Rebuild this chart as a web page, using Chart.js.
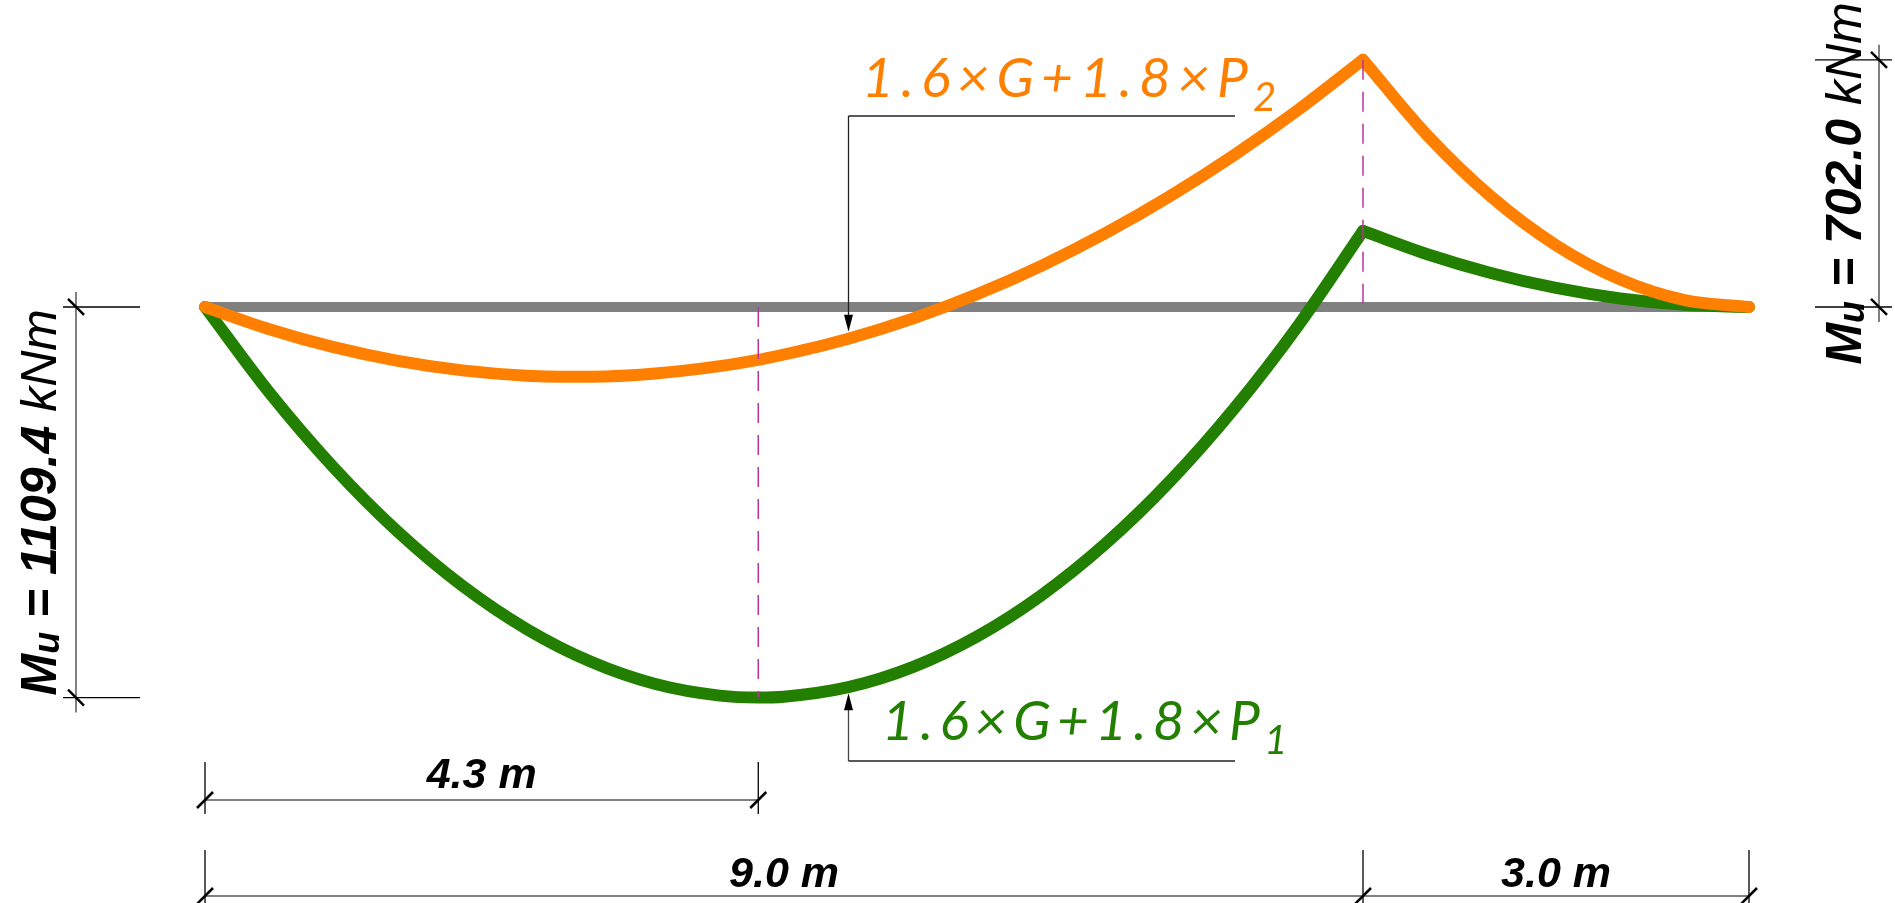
<!DOCTYPE html>
<html>
<head>
<meta charset="utf-8">
<script src="https://cdn.jsdelivr.net/npm/chart.js@4.4.0/dist/chart.umd.min.js"></script>
<style>
html, body { margin: 0; padding: 0; background: #fff; }
#wrap { width: 1895px; height: 903px; }
</style>
</head>
<body>
<div id="wrap"><canvas id="momentChart" width="1895" height="903"></canvas></div>
<script>
// positions along the beam (m): 9 m span + 3 m cantilever
const spanX = [0, 0.5, 1, 1.5, 2, 2.5, 3, 3.5, 4, 4.3, 4.5, 5, 5.5, 6, 6.5, 7, 7.5, 8, 8.5, 9];
const greenSpan = [0, -243, -456, -639, -792, -915, -1008, -1071, -1104, -1109.4, -1107, -1080, -1023, -936, -819, -672, -495, -288, -51, 216];
const orangeSpan = [0, -63, -114, -153, -180, -195, -198, -189, -168, -150, -135, -90, -33, 36, 117, 210, 315, 432, 561, 702];
const cantX = [9, 9.5, 10, 10.5, 11, 11.5, 12];
const greenCant = [216, 150, 96, 54, 24, 6, 0];
const orangeCant = [702, 487.5, 312, 175.5, 78, 19.5, 0];
const beamX = [0, 12];
const beamY = [0, 0];

// annotations
const maxSag = -1109.4, maxSagAt = 4.3;
const maxHog = 702.0, supportAt = 9;
const beamEnd = 12;
const leaderAt = 5.0;
const sagLabel = '1109.4', hogLabel = '702.0';
const comboMain = '1.6×G+1.8×P';
const comboSubs = ['2', '1'];
const dimLabels = ['4.3 m', '9.0 m', '3.0 m'];

const ORANGE = '#ff8000', GREEN = '#227f00', GRAY = '#808080', DASH = '#b8359f';

const pts = (xs, ys) => xs.map((v, i) => ({ x: v, y: ys[i] }));

function curve(data, color) {
    return {
        data: data,
        borderColor: color,
        borderWidth: 12,
        borderCapStyle: 'round',
        borderJoinStyle: 'round',
        pointRadius: 0,
        cubicInterpolationMode: 'monotone',
        fill: false
    };
}

function runs(ctx, parts, x, y) {
    // draw text pieces centred on x, baseline y
    let total = 0;
    parts.forEach(p => { ctx.font = p.f; total += ctx.measureText(p.t).width; });
    let cx = x - total / 2;
    ctx.textAlign = 'left';
    parts.forEach(p => {
        ctx.font = p.f;
        ctx.fillText(p.t, cx, y + (p.dy || 0));
        cx += ctx.measureText(p.t).width;
    });
}

function spaced(ctx, text, sub, x, y, width, color) {
    ctx.fillStyle = color;
    ctx.textAlign = 'left';
    ctx.font = 'italic 400 55px Lato, "Open Sans", sans-serif';
    const chars = [...text];
    let natural = 0;
    chars.forEach(c => natural += ctx.measureText(c).width);
    const gap = (width - natural) / (chars.length - 1);
    let cx = x;
    chars.forEach(c => {
        ctx.fillText(c, cx, y);
        cx += ctx.measureText(c).width + gap;
    });
    ctx.font = 'italic 400 40px Lato, "Open Sans", sans-serif';
    ctx.fillText(sub, cx - 2, y + 14);
}

function tick(ctx, x, y, vertical) {
    ctx.save();
    ctx.strokeStyle = '#000';
    ctx.lineWidth = 2.5;
    ctx.beginPath();
    if (vertical) { ctx.moveTo(x - 8, y - 8); ctx.lineTo(x + 8, y + 8); }
    else { ctx.moveTo(x - 8, y + 8); ctx.lineTo(x + 8, y - 8); }
    ctx.stroke();
    ctx.restore();
}

function line(ctx, x1, y1, x2, y2, color, w) {
    ctx.strokeStyle = color;
    ctx.lineWidth = w;
    ctx.beginPath();
    ctx.moveTo(x1, y1);
    ctx.lineTo(x2, y2);
    ctx.stroke();
}

function arrow(ctx, x, tipY, dir) {
    ctx.fillStyle = '#000';
    ctx.beginPath();
    ctx.moveTo(x, tipY);
    ctx.lineTo(x - 4.5, tipY - dir * 17);
    ctx.lineTo(x + 4.5, tipY - dir * 17);
    ctx.closePath();
    ctx.fill();
}

const sketch = {
    id: 'sketch',
    afterDatasetsDraw(chart) {
        const { ctx, scales: { x, y } } = chart;
        const X = v => x.getPixelForValue(v);
        const Y = v => y.getPixelForValue(v);
        ctx.save();
        ctx.lineCap = 'butt';

        // dashed verticals
        ctx.setLineDash([20, 12]);
        line(ctx, X(maxSagAt), Y(0), X(maxSagAt), Y(maxSag), DASH, 1.5);
        line(ctx, X(supportAt), Y(maxHog), X(supportAt), Y(0), DASH, 1.5);
        ctx.setLineDash([]);

        // leaders with arrows
        const lx = Math.round(X(leaderAt)) + 0.5;
        const oTip = Y(-90) - 7;
        line(ctx, lx, 116, lx, oTip - 10, '#222', 1.3);
        line(ctx, lx, 116, 1235, 116, '#222', 1.3);
        arrow(ctx, lx, oTip, 1);
        const gTip = Y(-1080) + 6;
        line(ctx, lx, 761, lx, gTip + 10, '#444', 1.3);
        line(ctx, lx, 761, 1235, 761, '#222', 1.3);
        arrow(ctx, lx, gTip, -1);

        spaced(ctx, comboMain, comboSubs[0], 862, 97, 386, ORANGE);
        spaced(ctx, comboMain, comboSubs[1], 882, 740, 378, GREEN);

        // left vertical dimension
        const ly0 = Y(0), ly1 = Y(maxSag);
        line(ctx, 63, ly0, 140, ly0, '#000', 1.3);
        line(ctx, 63, ly1, 140, ly1, '#000', 1.3);
        line(ctx, 76, ly0 - 15, 76, ly1 + 15, GRAY, 2);
        tick(ctx, 76, ly0, true);
        tick(ctx, 76, ly1, true);

        // right vertical dimension
        const ry0 = Y(maxHog), ry1 = Y(0);
        line(ctx, 1815, ry0, 1892, ry0, '#000', 1.3);
        line(ctx, 1815, ry1, 1892, ry1, '#000', 1.3);
        line(ctx, 1879, ry0 - 15, 1879, ry1 + 15, GRAY, 2);
        tick(ctx, 1879, ry0, true);
        tick(ctx, 1879, ry1, true);

        // bottom dimensions
        const x0 = X(0), xa = X(maxSagAt), xs = X(supportAt), xe = X(beamEnd);
        [x0, xa].forEach(v => line(ctx, v, 762, v, 814, '#000', 1.3));
        line(ctx, x0, 800, xa, 800, GRAY, 2);
        tick(ctx, x0, 800, false);
        tick(ctx, xa, 800, false);
        [x0, xs, xe].forEach(v => line(ctx, v, 850, v, 903, '#000', 1.3));
        line(ctx, x0, 896, xe, 896, GRAY, 2);
        [x0, xs, xe].forEach(v => tick(ctx, v, 896, false));

        ctx.fillStyle = '#000';
        const dimFont = 'bold italic 43px "Liberation Sans", Arial, sans-serif';
        runs(ctx, [{ t: dimLabels[0], f: dimFont }], (x0 + xa) / 2, 788);
        runs(ctx, [{ t: dimLabels[1], f: dimFont }], (x0 + xs) / 2, 887);
        runs(ctx, [{ t: dimLabels[2], f: dimFont }], (xs + xe) / 2, 887);

        // rotated moment labels
        const big = 'bold italic 50px "Liberation Sans", Arial, sans-serif';
        const sub = 'bold italic 36px "Liberation Sans", Arial, sans-serif';
        const unit = 'italic 50px "Liberation Sans", Arial, sans-serif';
        [[56, (ly0 + ly1) / 2, sagLabel], [1861, (ry0 + ry1) / 2, hogLabel]].forEach(([bx, cy, val]) => {
            ctx.save();
            ctx.translate(bx, cy);
            ctx.rotate(-Math.PI / 2);
            runs(ctx, [
                { t: 'M', f: big },
                { t: 'u', f: sub, dy: 3 },
                { t: ' = ' + val + ' ', f: big },
                { t: 'kNm', f: unit }
            ], 0, 0);
            ctx.restore();
        });
        ctx.restore();
    }
};

new Chart(document.getElementById('momentChart'), {
    type: 'line',
    data: {
        datasets: [
            curve(pts(cantX, orangeCant), ORANGE),
            curve(pts(spanX, orangeSpan), ORANGE),
            curve(pts(cantX, greenCant), GREEN),
            curve(pts(spanX, greenSpan), GREEN),
            {
                data: pts(beamX, beamY),
                borderColor: GRAY,
                borderWidth: 10,
                borderCapStyle: 'butt',
                pointRadius: 0,
                fill: false
            }
        ]
    },
    options: {
        responsive: false,
        animation: false,
        devicePixelRatio: 1,
        layout: { padding: 0 },
        scales: {
            x: { type: 'linear', min: -1.5933, max: 13.1347, display: false },
            y: { min: -1693, max: 872, display: false }
        },
        plugins: {
            legend: { display: false },
            tooltip: { enabled: false }
        }
    },
    plugins: [sketch]
});
</script>
</body>
</html>
